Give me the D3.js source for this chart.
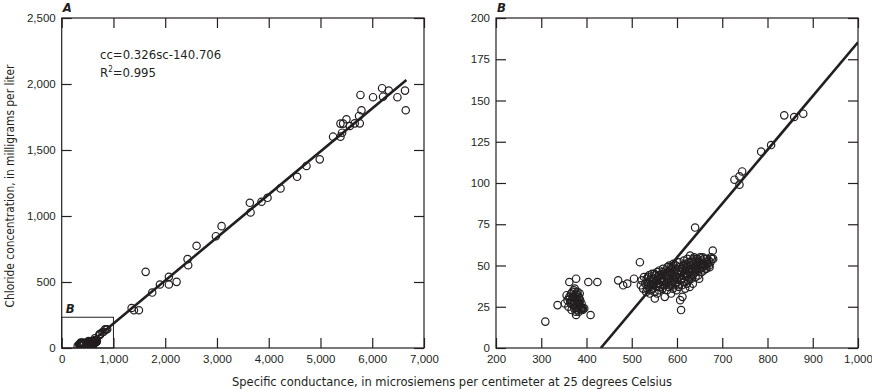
<!DOCTYPE html>
<html lang="en">
<head>
<meta charset="utf-8">
<title>Chloride vs specific conductance</title>
<script src="https://d3js.org/d3.v7.min.js"></script>
<style>
  * { margin: 0; padding: 0; box-sizing: border-box; }
  body { background: #fff; overflow: hidden; }
  svg { display: block; font-family: "Liberation Sans Narrow", "Arial Narrow", "DejaVu Sans Condensed", sans-serif; }
  .tick-label { font-size: 11.5px; fill: #231f20; }
  .axis-title { font-size: 12.5px; fill: #231f20; }
  .panel-letter { font-size: 13px; font-weight: bold; font-style: italic; fill: #231f20; }
  .note { font-size: 13px; fill: #231f20; }
</style>
</head>
<body>
<svg id="chart" width="872" height="390"></svg>
<script>
// regression: cc = 0.326 sc - 140.706
const slope = 0.326;
const intercept = -140.706;

// samples above 1,000 uS/cm (panel A only)
const highSc = [1351, 1396, 1492, 1622, 1749, 1898, 2071, 2071, 2220, 2432, 2444, 2606, 2979, 3089,
  3635, 3649, 3861, 3977, 4228, 4548, 4730, 4986, 5243, 5386, 5386, 5417, 5437, 5502, 5566, 5662,
  5745, 5759, 5772, 5792, 6015, 6190, 6208, 6319, 6486, 6633, 6647];
const highCc = [303, 286, 286, 577, 420, 481, 539, 481, 501, 673, 627, 774, 847, 923,
  1100, 1027, 1108, 1138, 1209, 1297, 1379, 1429, 1601, 1700, 1601, 1631, 1700, 1733, 1682, 1702,
  1758, 1702, 1917, 1801, 1900, 1968, 1904, 1950, 1900, 1950, 1801];

// samples below 1,000 uS/cm (both panels)
const lowSc = [309, 336, 352, 356, 358, 360, 362, 363, 365, 366, 367, 368, 370, 371, 372, 373, 374, 375,
  376, 377, 377, 378, 379, 380, 381, 382, 383, 384, 385, 386, 388, 390, 392, 404, 409, 424,
  362, 364, 369, 371, 373, 374, 376, 378, 379, 380, 381, 382, 383, 384, 385, 386, 387, 389, 391, 395,
  470, 481, 490, 505, 518,
  520, 522, 525, 527, 530, 532, 533, 535, 537, 538, 540, 541, 543, 545, 546, 548, 549, 550, 551, 552,
  554, 555, 556, 558, 559, 560, 561, 563, 564, 565, 567, 568, 569, 570, 572, 573, 574, 575, 576, 578,
  579, 580, 581, 582, 583, 585, 586, 587, 588, 589, 590, 591, 592, 593, 595, 596, 597, 598, 599, 600,
  601, 602, 603, 604, 605, 606, 607, 608, 609, 610, 611, 612, 613, 614, 615, 616, 617, 618, 619, 620,
  621, 622, 623, 624, 625, 626, 627, 628, 629, 630, 631, 632, 633, 634, 635, 636, 637, 638, 640, 640,
  641, 642, 643, 645, 646, 647, 648, 649, 650, 651, 652, 654, 655, 656, 658, 659, 660, 662, 663, 665,
  666, 668, 670, 672, 674, 677, 679, 680,
  534, 536, 539, 542, 544, 547, 550, 553, 556, 557, 560, 562, 566, 568, 571, 574, 577, 579, 582, 584,
  586, 588, 590, 593, 594, 597, 600, 602, 604, 606, 608, 610, 612, 614, 616, 618, 620, 622, 624, 626,
  628, 630, 632, 634, 636, 638, 640, 642, 644, 646, 648, 650, 652, 655, 657, 660, 663, 667, 671, 675,
  727, 738, 738, 744, 786, 808, 837, 859, 879];
const lowCc = [16, 26, 27, 32, 29, 25, 40, 30, 27, 33, 23, 29, 31, 26, 35, 24, 28, 32,
  22, 20, 42, 30, 26, 34, 28, 24, 31, 27, 33, 25, 24, 24, 24, 40, 20, 40,
  31, 28, 34, 30, 27, 36, 25, 33, 23, 29, 32, 27, 22, 30, 26, 29, 24, 27, 23, 24,
  41, 38, 39, 42, 52,
  38, 41, 36, 43, 39, 34, 42, 40, 37, 44, 33, 41, 38, 45, 36, 42, 39, 34, 30, 44,
  41, 37, 46, 43, 39, 35, 47, 42, 38, 44, 40, 36, 48, 45, 41, 31, 38, 47, 43, 35,
  49, 44, 40, 37, 50, 46, 42, 33, 39, 48, 44, 36, 51, 41, 47, 38, 43, 50, 35, 45,
  40, 52, 47, 37, 43, 49, 29, 41, 23, 46, 38, 31, 50, 44, 53, 40, 47, 36, 51, 43,
  49, 39, 54, 45, 41, 52, 47, 37, 56, 44, 50, 42, 53, 47, 39, 51, 45, 55, 49, 73,
  43, 52, 47, 54, 50, 44, 52, 42, 48, 55, 51, 46, 53, 49, 51, 47, 54, 50, 52, 48,
  54, 51, 53, 49, 52, 54, 59, 54,
  36, 43, 39, 35, 42, 38, 45, 40, 33, 42, 44, 37, 42, 46, 38, 44, 40, 46, 42, 38,
  49, 45, 40, 46, 43, 48, 42, 38, 45, 52, 47, 42, 48, 40, 50, 45, 48, 44, 50, 46,
  42, 52, 48, 44, 54, 49, 46, 50, 48, 53, 47, 52, 49, 51, 55, 50, 48, 52, 50, 55,
  102, 99, 104, 107, 119, 123, 141, 140, 142];

const xTicksA = [0, 1000, 2000, 3000, 4000, 5000, 6000, 7000];
const yTicksA = [0, 500, 1000, 1500, 2000, 2500];
const xTicksB = [200, 300, 400, 500, 600, 700, 800, 900, 1000];
const yTicksB = [0, 25, 50, 75, 100, 125, 150, 175, 200];

const fmt = d3.format(",");
const svg = d3.select("#chart");
const plotTop = 18, plotBottom = 348, tickLen = 10;

function panel(opts) {
  const x = d3.scaleLinear().domain(opts.xDomain).range([opts.left, opts.right]);
  const y = d3.scaleLinear().domain(opts.yDomain).range([plotBottom, plotTop]);
  const g = svg.append("g");

  // ticks inward on all four sides
  g.append("g").attr("transform", `translate(0,${plotBottom})`)
    .call(d3.axisBottom(x).tickValues(opts.xTicks).tickSize(-tickLen).tickPadding(7).tickFormat(fmt));
  g.append("g").attr("transform", `translate(0,${plotTop})`)
    .call(d3.axisTop(x).tickValues(opts.xTicks).tickSize(-tickLen).tickFormat(""));
  g.append("g").attr("transform", `translate(${opts.left},0)`)
    .call(d3.axisLeft(y).tickValues(opts.yTicks).tickSize(-tickLen).tickPadding(6).tickFormat(fmt));
  g.append("g").attr("transform", `translate(${opts.right},0)`)
    .call(d3.axisRight(y).tickValues(opts.yTicks).tickSize(-tickLen).tickFormat(""));
  g.selectAll(".domain").remove();
  g.selectAll(".tick line").attr("stroke", "#231f20").attr("stroke-width", 1.2);
  g.selectAll(".tick text").attr("class", "tick-label").attr("font-family", null).attr("font-size", null);

  // frame
  g.append("rect")
    .attr("x", opts.left).attr("y", plotTop)
    .attr("width", opts.right - opts.left).attr("height", plotBottom - plotTop)
    .attr("fill", "none").attr("stroke", "#231f20").attr("stroke-width", 1.2);

  g.append("text").attr("class", "panel-letter")
    .attr("x", opts.left + 1).attr("y", 12).text(opts.letter);

  const clip = "clip-" + opts.letter;
  svg.append("clipPath").attr("id", clip).append("rect")
    .attr("x", opts.left).attr("y", plotTop)
    .attr("width", opts.right - opts.left).attr("height", plotBottom - plotTop);

  // fitted line
  const x0 = -intercept / slope;
  g.append("line")
    .attr("clip-path", `url(#${clip})`)
    .attr("x1", x(x0)).attr("y1", y(0))
    .attr("x2", x(opts.lineEnd)).attr("y2", y(slope * opts.lineEnd + intercept))
    .attr("stroke", "#231f20").attr("stroke-width", 2.6);

  // points
  g.append("g").attr("clip-path", `url(#${clip})`)
    .selectAll("circle").data(opts.points).join("circle")
    .attr("cx", d => x(d[0])).attr("cy", d => y(d[1]))
    .attr("r", 3.7)
    .attr("fill", "none").attr("stroke", "#231f20").attr("stroke-width", 1.2);

  return { x, y, g };
}

const lowPts = lowSc.map((s, i) => [s, lowCc[i]]);
const highPts = highSc.map((s, i) => [s, highCc[i]]);

const A = panel({
  letter: "A", left: 61.7, right: 424,
  xDomain: [0, 7000], yDomain: [0, 2500],
  xTicks: xTicksA, yTicks: yTicksA,
  lineEnd: 6660, points: lowPts.concat(highPts)
});

const B = panel({
  letter: "B", left: 496, right: 858,
  xDomain: [200, 1000], yDomain: [0, 200],
  xTicks: xTicksB, yTicks: yTicksB,
  lineEnd: 1000, points: lowPts
});

// inset box showing panel B extent
A.g.append("rect")
  .attr("x", A.x(0)).attr("y", A.y(233))
  .attr("width", A.x(1000) - A.x(0)).attr("height", A.y(0) - A.y(233))
  .attr("fill", "none").attr("stroke", "#231f20").attr("stroke-width", 1);
A.g.append("text").attr("class", "panel-letter")
  .attr("x", A.x(0) + 4).attr("y", A.y(233) - 4).text("B");

// equation
A.g.append("text").attr("class", "note").attr("x", 100).attr("y", 59).text("cc=0.326sc-140.706");
const r2 = A.g.append("text").attr("class", "note").attr("x", 100).attr("y", 77);
r2.append("tspan").text("R");
r2.append("tspan").attr("font-size", 8).attr("dy", -5).text("2");
r2.append("tspan").attr("dy", 5).text("=0.995");

// axis titles
svg.append("text").attr("class", "axis-title")
  .attr("text-anchor", "middle")
  .attr("transform", `translate(14,186) rotate(-90)`)
  .attr("textLength", 243).attr("lengthAdjust", "spacingAndGlyphs")
  .text("Chloride concentration, in milligrams per liter");
svg.append("text").attr("class", "axis-title")
  .attr("text-anchor", "middle")
  .attr("x", 452).attr("y", 386)
  .attr("textLength", 440).attr("lengthAdjust", "spacingAndGlyphs")
  .text("Specific conductance, in microsiemens per centimeter at 25 degrees Celsius");
</script>
</body>
</html>
